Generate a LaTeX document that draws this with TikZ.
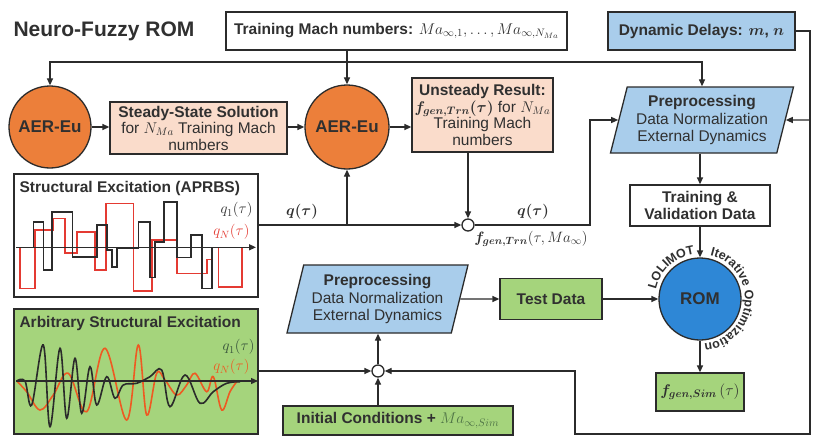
\RequirePackage{fix-cm}
\documentclass[tikz,border=0pt]{standalone}
\usepackage{amsmath,bm}
\usepackage[no-math]{fontspec}
\setmainfont{Liberation Sans}
\usetikzlibrary{shapes.geometric,arrows.meta,decorations.text,calc}
\definecolor{linec}{HTML}{2B2B2B}
\definecolor{txt}{HTML}{303030}
\definecolor{orangeC}{HTML}{EC7F3A}
\definecolor{peach}{HTML}{FADCCB}
\definecolor{lblue}{HTML}{A9CDEB}
\definecolor{romblue}{HTML}{2E87D6}
\definecolor{lgreen}{HTML}{A5D47C}
\definecolor{sigred}{HTML}{E43A32}
\definecolor{sigorange}{HTML}{EE5A22}
\definecolor{mgreen}{HTML}{4F7446}
\definecolor{dgreen}{HTML}{35503A}
\newcommand\mybody{\fontsize{15.5}{16.5}\selectfont}
\newcommand\mypre{\fontsize{15.5}{17.5}\selectfont}
\newcommand\mytitle{\fontsize{21}{24}\selectfont\bfseries}
\newcommand\myaer{\fontsize{17}{18}\selectfont\bfseries}
\newcommand\myrom{\fontsize{17}{18}\selectfont\bfseries}
\newcommand\myq{\fontsize{15}{15}\selectfont}
\newcommand\mycurve{\fontsize{12.5}{12.5}\selectfont\bfseries}
\begin{document}
\begin{tikzpicture}[x=1pt,y=-1pt,
  every node/.style={text=txt},
  ln/.style={draw=linec,line width=1.3pt},
  arr/.style={ln,-{Triangle[length=7pt,width=6pt]}},
  box/.style={draw=linec,line width=1.3pt,align=center,inner sep=1pt,font=\mybody},
  circ/.style={circle,draw=linec,line width=1.3pt,inner sep=0pt},
  para/.style={trapezium,trapezium left angle=72,trapezium right angle=108,trapezium stretches body,draw=linec,line width=1.3pt,align=center,inner sep=1pt,font=\mypre,fill=lblue},
  sumc/.style={circle,draw=linec,line width=1.3pt,fill=white,minimum size=12pt,inner sep=0pt},
  sig/.style={line width=1.6pt},
]
\useasboundingbox[fill=white] (0,0) rectangle (814,436);

% nodes
\node[font=\mytitle,anchor=west] (title) at (10,31) {Neuro-Fuzzy ROM};
\node[box,minimum width=341pt,minimum height=38pt] (train) at (396.5,31) {\textbf{Training Mach numbers:} $Ma_{\infty,1},\ldots,Ma_{\infty,N_{Ma}}$};
\node[box,fill=lblue,minimum width=187pt,minimum height=38pt] (dyn) at (701.5,31) {\textbf{Dynamic Delays:} $\bm{m}$\textbf{,} $\bm{n}$};
\node[circ,fill=orangeC,minimum size=82pt,font=\myaer] (aer1) at (50,127) {AER-Eu};
\node[box,fill=peach,minimum width=177pt,minimum height=52pt] (steady) at (198.5,128) {\textbf{Steady-State Solution}\\ for $N_{Ma}$ Training Mach\\ numbers};
\node[circ,fill=orangeC,minimum size=84pt,font=\myaer] (aer2) at (347,127) {AER-Eu};
\node[box,fill=peach,minimum width=141pt,minimum height=74pt] (unst) at (482.5,115) {\textbf{Unsteady Result:}\\ $\bm{f_{gen,Trn}(\tau)}$ for $N_{Ma}$\\ Training Mach\\ numbers};
\node[para,minimum width=183pt,minimum height=66pt] (pre1) at (702,120) {\textbf{Preprocessing}\\ Data Normalization\\ External Dynamics};
\node[box,minimum width=140pt,minimum height=41pt,font=\mybody\bfseries] (tv) at (700,205.5) {Training \&\\ Validation Data};
\node[circ,fill=romblue,minimum size=82pt,font=\myrom] (rom) at (700,299) {ROM};
\node[box,fill=lgreen,minimum width=88pt,minimum height=38pt] (fsim) at (700,392) {$\bm{f_{gen,Sim}}\,(\tau)$};
\node[box,fill=lgreen,minimum width=102pt,minimum height=41pt,font=\mybody\bfseries] (test) at (551,299) {Test Data};
\node[para,minimum width=181pt,minimum height=68pt] (pre2) at (377.5,299) {\textbf{Preprocessing}\\ Data Normalization\\ External Dynamics};
\node[sumc] (sum1) at (468,225) {};
\node[sumc] (sum2) at (378,371) {};
\node[box,fill=lgreen,minimum width=230pt,minimum height=29pt] (init) at (398,420.5) {\textbf{Initial Conditions +} \textcolor{mgreen}{$Ma_{\infty,Sim}$}};
\node[box,minimum width=244pt,minimum height=123pt] (struct) at (136,235.5) {};
\node[box,fill=lgreen,minimum width=244pt,minimum height=125pt] (arb) at (136,371.5) {};

% signals APRBS
\draw[sig,sigred] (20,247.3) -- (20,288.3) -- (35,288.3) -- (35,230) -- (53.3,230) -- (53.3,218.3) -- (65,218.3) -- (65,252.7) -- (76.7,252.7) -- (76.7,231.7) -- (95,231.7) -- (95,270) -- (106,270) -- (106,203.3) -- (133.3,203.3) -- (133.3,290.7) -- (151.7,290.7) -- (151.7,240) -- (176.7,240) -- (176.7,273.3) -- (206.7,273.3) -- (206.7,259.3) -- (211.7,259.3) -- (211.7,247.3) -- (218.3,247.3) -- (218.3,286.7) -- (241.7,286.7) -- (241.7,247.3);
\draw[sig,linec] (20,247.3) -- (33.3,247.3) -- (33.3,221.7) -- (43.3,221.7) -- (43.3,270) -- (51.7,270) -- (51.7,211.7) -- (72.3,211.7) -- (72.3,256.7) -- (96.7,256.7) -- (96.7,225) -- (106.7,225) -- (106.7,250) -- (111.7,250) -- (111.7,266.7) -- (116.7,266.7) -- (116.7,248.3) -- (138.3,248.3) -- (138.3,221.7) -- (150,221.7) -- (150,277.3) -- (155,277.3) -- (155,241.7) -- (164,241.7) -- (164,201.7) -- (176.7,201.7) -- (176.7,257.3) -- (190.7,257.3) -- (190.7,235) -- (201.7,235) -- (201.7,288.3) -- (211.7,288.3) -- (211.7,247.3);
\draw[arr] (16,247.3) -- (256,247.3);
\node[anchor=west,font=\mybody\bfseries] (stitle) at (16,188) {Structural Excitation (APRBS)};
\node[anchor=east,font=\myq] (sq1) at (256,210) {$q_1(\tau)$};
\node[anchor=east,font=\myq,text=sigred] (sqn) at (253,232) {$q_N(\tau)$};

% arbitrary signals
\draw[sig,sigorange] plot[smooth,tension=0.6] coordinates {(16.7,381) (26.7,391.7) (40,410) (53.3,395) (68.3,373.3) (86.7,411.7) (105,348.3) (126.7,420) (138.3,345) (146.7,415) (156.7,373.3) (165,380) (176.7,395) (186.7,385) (195,373.3) (206.7,391.7) (213.3,376.7) (221.7,410) (230,391.7) (236.7,381.7)};
\draw[sig,linec] plot[smooth,tension=0.6] coordinates {(16.7,381) (25,381) (31.7,405) (43.3,345) (50,426.7) (60,348.3) (66.7,418.3) (75,358.3) (81.7,413.3) (90,366.7) (96.7,405) (106.7,376.7) (115,398.3) (123.3,385) (136.7,383.3) (150,376.7) (161.7,370) (170,406.7) (185,375) (200,403.3) (213.3,391.7) (226.7,383.3) (240,381.7)};
\draw[arr] (16,381) -- (258,381);
\node[anchor=west,font=\mybody\bfseries] (atitle) at (16,323) {Arbitrary Structural Excitation};
\node[anchor=east,font=\myq,text=dgreen] (aq1) at (258,347) {$q_1(\tau)$};
\node[anchor=east,font=\myq,text=sigorange] (aqn) at (253,367) {$q_N(\tau)$};

% labels
\node[font=\myq] (lq1) at (302,212) {$\bm{q(\tau)}$};
\node[font=\myq] (lq2) at (533,212) {$\bm{q(\tau)}$};
\node[font=\myq] (lf) at (531,239) {$\bm{f_{gen,Trn}}(\tau,Ma_{\infty})$};

% connectors
\coordinate (bus) at (347,62);
\draw[arr] (train.south -| aer2.north) -- (aer2.north);
\draw[arr] (bus) -| (aer1.north);
\draw[arr] (bus) -| (pre1.north);
\draw[arr] (aer1.east) -- (aer1.east -| steady.west);
\draw[arr] (steady.east |- aer2.west) -- (aer2.west);
\draw[arr] (aer2.east) -- (aer2.east -| unst.west);
\draw[arr] (struct.east |- sum1.west) -- (sum1.west);
\draw[arr] (aer2.south |- sum1.west) -- (aer2.south);
\draw[arr] (sum1.north |- unst.south) -- (sum1.north);
\coordinate (c1) at (590,225);
\draw[arr] (sum1.east) -- (c1) |- (pre1.west);
\draw[arr] (tv.north |- pre1.south) -- (tv.north);
\draw[arr] (tv.south) -- (rom.north);
\draw[arr] (test.east) -- (rom.west);
\draw[arr] (pre2.east) -- (test.west);
\draw[arr] (rom.south) -- (fsim.north);
\draw[arr] (arb.east |- sum2.west) -- (sum2.west);
\draw[arr] (sum2.south |- init.north) -- (sum2.south);
\draw[arr] (sum2.north) -- (sum2.north |- pre2.south);
\coordinate (d1) at (810,31);
\coordinate (d2) at (810,434);
\coordinate (d3) at (575,434);
\coordinate (d4) at (575,371);
\coordinate (d5) at (810,120);
\draw[arr] (dyn.east) -- (d1) -- (d2) -- (d3) -- (d4) -- (sum2.east);
\draw[arr] (d5) -- (pre1.east);

% curved text around ROM
\path[decorate,decoration={text along path,text align=center,text color=txt,text={|\mycurve|LOLIMOT}}] (rom.center) ++(-168:45) arc[start angle=-168,end angle=-97,radius=45];
\path[decorate,decoration={text along path,text align=center,text color=txt,text={|\mycurve|Iterative Optimization}}] (rom.center) ++(-82:45) arc[start angle=-82,end angle=90,radius=45];
\end{tikzpicture}
\end{document}
